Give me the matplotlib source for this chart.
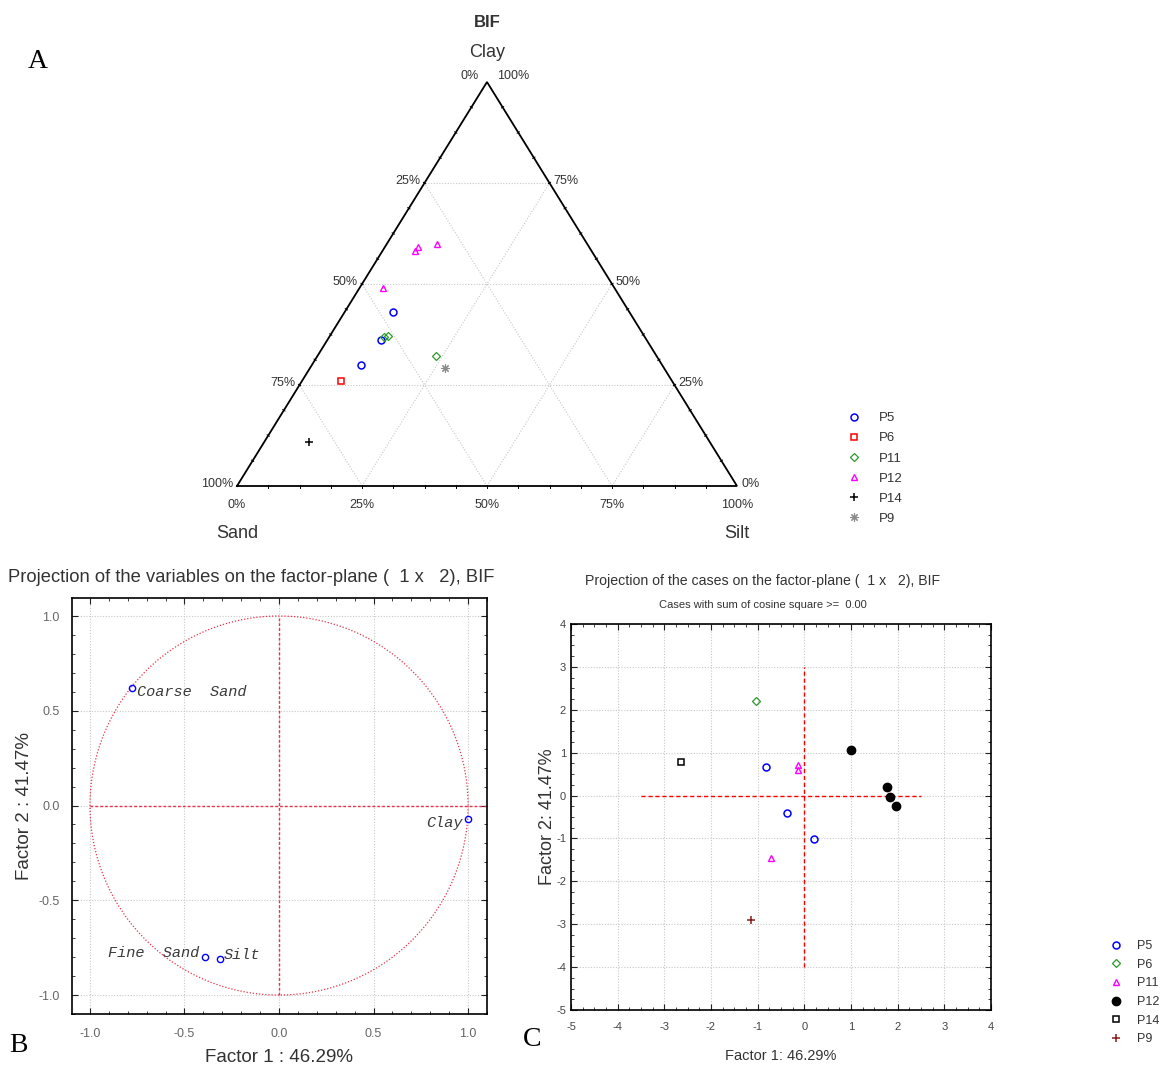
import numpy as np
import matplotlib
matplotlib.use("Agg")
import matplotlib.pyplot as plt
from matplotlib.lines import Line2D
from matplotlib.ticker import MultipleLocator, FormatStrFormatter

plt.rcParams.update({
    "font.family": ["Liberation Sans", "DejaVu Sans"],
    "font.size": 9,
    "axes.unicode_minus": False,
})

W, H = 1173, 1068

# ---------------------------------------------------------------------------
# Data
# ---------------------------------------------------------------------------
# A: ternary (percent silt / clay, sand is the rest) per group
tern_groups = ["P5", "P6", "P11", "P12", "P14", "P9"]
tern_silt = {
    "P5": [9.6, 10.8, 9.8],
    "P6": [7.8],
    "P11": [10.9, 11.6, 23.7],
    "P12": [9.9, 6.7, 6.6, 4.6],
    "P14": [8.9],
    "P9": [27.0],
}
tern_clay = {
    "P5": [43.1, 36.1, 29.9],
    "P6": [26.0],
    "P11": [36.9, 37.1, 32.2],
    "P12": [60.0, 59.1, 58.1, 49.1],
    "P14": [10.8],
    "P9": [29.1],
}
tern_style = {
    "P5": dict(marker="o", mfc="none", mec="blue", ms=5, mew=1.1),
    "P6": dict(marker="s", mfc="none", mec="red", ms=5, mew=1.1),
    "P11": dict(marker="D", mfc="none", mec="#2a9a2a", ms=4, mew=0.9),
    "P12": dict(marker="^", mfc="none", mec="magenta", ms=5, mew=1.0),
    "P14": dict(marker="+", mfc="none", mec="black", ms=6, mew=1.1),
    "P9": dict(marker=(8, 2, 0), mfc="none", mec="#8a8a8a", ms=6, mew=0.8),
}
tern_ticks = [0, 25, 50, 75, 100]

# B: variable loadings
var_names = ["Coarse  Sand", "Clay", "Fine  Sand", "Silt"]
var_f1 = [-0.78, 1.00, -0.39, -0.31]
var_f2 = [0.62, -0.07, -0.80, -0.81]

# C: case scores per group
case_groups = ["P5", "P6", "P11", "P12", "P14", "P9"]
case_f1 = {
    "P5": [-0.83, -0.38, 0.21],
    "P6": [-1.03],
    "P11": [-0.13, -0.13, -0.72],
    "P12": [1.00, 1.77, 1.84, 1.96],
    "P14": [-2.64],
    "P9": [-1.15],
}
case_f2 = {
    "P5": [0.66, -0.41, -1.02],
    "P6": [2.21],
    "P11": [0.71, 0.60, -1.46],
    "P12": [1.06, 0.21, -0.04, -0.24],
    "P14": [0.79],
    "P9": [-2.90],
}
case_style = {
    "P5": dict(marker="o", mfc="none", mec="blue", ms=5, mew=1.1),
    "P6": dict(marker="D", mfc="none", mec="#2a9a2a", ms=4, mew=0.9),
    "P11": dict(marker="^", mfc="none", mec="magenta", ms=5, mew=1.0),
    "P12": dict(marker="o", mfc="black", mec="black", ms=6, mew=1.0),
    "P14": dict(marker="s", mfc="none", mec="black", ms=5, mew=1.1),
    "P9": dict(marker="+", mfc="none", mec="#8b1a1a", ms=6, mew=1.1),
}

GRID = dict(color="#c8c8c8", lw=0.8, ls=(0, (1, 1.5)))
TXT = "#333333"


def box(left, top, right, bottom):
    """pixel box -> figure fraction rect"""
    return [left / W, 1 - bottom / H, (right - left) / W, (bottom - top) / H]


fig = plt.figure(figsize=(W / 100, H / 100), dpi=100)

# ===================================================================
# A: ternary diagram
# ===================================================================
axA = fig.add_axes(box(237, 82, 737, 486))
axA.set_xlim(0, 1)
axA.set_ylim(0, 1)
axA.axis("off")


def txy(silt, clay):
    silt = np.asarray(silt) / 100.0
    clay = np.asarray(clay) / 100.0
    return silt + clay / 2, clay


# grid
for v in [25, 50, 75]:
    x, y = txy([0, 100 - v], [v, v])
    axA.plot(x, y, **GRID)
    x, y = txy([v, v], [0, 100 - v])
    axA.plot(x, y, **GRID)
    x, y = txy([100 - v, 0], [0, 100 - v])
    axA.plot(x, y, **GRID)

# edges
axA.plot([0, 1, 0.5, 0], [0, 0, 1, 0], color="black", lw=1.3, clip_on=False,
         solid_joinstyle="miter")

# small edge ticks
px, py = 1 / 500, 1 / 404
for k in range(1, 16):
    f = k / 16
    axA.plot([f, f], [1.5 * py, -1.5 * py], color="black", lw=0.7, clip_on=False)
    xl, yl = f / 2, f
    axA.plot([xl + 1.1 * px, xl - 1.1 * px], [yl - 0.7 * py, yl + 0.7 * py],
             color="black", lw=0.7, clip_on=False)
    xr, yr = 1 - f / 2, f
    axA.plot([xr - 1.1 * px, xr + 1.1 * px], [yr - 0.7 * py, yr + 0.7 * py],
             color="black", lw=0.7, clip_on=False)

# points
for g in tern_groups:
    x, y = txy(tern_silt[g], tern_clay[g])
    axA.plot(x, y, ls="none", clip_on=False, **tern_style[g])

# tick labels
for t in tern_ticks:
    axA.text(t / 100, -19 * py, f"{t}%", ha="center", va="center", fontsize=9, color=TXT)
    x, y = txy(0, 100 - t)
    if t == 0:
        axA.text(x - 8 * px, y + 6 * py, "0%", ha="right", va="center", fontsize=9, color=TXT)
    else:
        axA.text(x - 4 * px, y + 2 * py, f"{t}%", ha="right", va="center", fontsize=9, color=TXT)
    x, y = txy(100 - t, t)
    if t == 100:
        axA.text(x + 10 * px, y + 6 * py, "100%", ha="left", va="center", fontsize=9, color=TXT)
    else:
        axA.text(x + 4 * px, y + 2 * py, f"{t}%", ha="left", va="center", fontsize=9, color=TXT)

axA.text(0.5, 1 + 30 * py, "Clay", ha="center", va="center", fontsize=13, color=TXT)
axA.text(0.5, 1 + 60 * py, "BIF", ha="center", va="center", fontsize=12,
         fontweight="bold", color=TXT)
axA.text(0, -47 * py, "Sand", ha="center", va="center", fontsize=13, color=TXT)
axA.text(1, -47 * py, "Silt", ha="center", va="center", fontsize=13, color=TXT)

handles = [Line2D([0], [0], ls="none", label=g, **tern_style[g]) for g in tern_groups]
fig.legend(handles=handles, loc="upper left", bbox_to_anchor=(847 / W, 1 - 412 / H),
           frameon=False, fontsize=9.5, labelspacing=0.6, handlelength=1.0,
           handletextpad=1.4, borderaxespad=0, borderpad=0, labelcolor=TXT)

fig.text(38 / W, 1 - 62 / H, "A", fontsize=20, family=["Liberation Serif"],
         ha="center", va="center")

# ===================================================================
# B: projection of the variables
# ===================================================================
axB = fig.add_axes(box(72, 598, 487, 1014))
axB.set_xlim(-1.095, 1.1)
axB.set_ylim(-1.1, 1.095)
theta = np.linspace(0, 2 * np.pi, 400)
axB.plot(np.cos(theta), np.sin(theta), color="#e8334a", lw=0.9, ls=(0, (1, 1.5)))
axB.plot([-1, 1.1], [0, 0], color="#e8334a", lw=1.0, ls=(0, (2, 1.5)))
axB.plot([0, 0], [-1, 1], color="#e8334a", lw=1.0, ls=(0, (2, 1.5)))
axB.plot(var_f1, var_f2, ls="none", marker="o", ms=4.5, mfc="none", mec="blue", mew=1.0)
offsets = {"Coarse  Sand": (0.03, -0.02, "left"), "Clay": (-0.03, -0.02, "right"),
           "Fine  Sand": (-0.03, 0.02, "right"), "Silt": (0.02, 0.02, "left")}
for n, x, y in zip(var_names, var_f1, var_f2):
    dx, dy, ha = offsets[n]
    axB.text(x + dx, y + dy, n, ha=ha, va="center", fontsize=11, style="italic",
             family=["Liberation Mono"], color="#3a3a3a")
axB.xaxis.set_major_locator(MultipleLocator(0.5))
axB.yaxis.set_major_locator(MultipleLocator(0.5))
axB.xaxis.set_minor_locator(MultipleLocator(0.1))
axB.yaxis.set_minor_locator(MultipleLocator(0.1))
axB.xaxis.set_major_formatter(FormatStrFormatter("%.1f"))
axB.yaxis.set_major_formatter(FormatStrFormatter("%.1f"))
axB.tick_params(which="both", direction="in", top=True, right=True, colors="#222222",
                labelcolor="#666666", labelsize=9)
axB.tick_params(which="major", length=4)
axB.tick_params(which="minor", length=2.5)
axB.tick_params(axis="x", pad=10)
axB.tick_params(axis="y", pad=9)
axB.grid(True, which="major", **GRID)
for s in axB.spines.values():
    s.set_linewidth(1.2)
axB.set_ylabel("Factor 2 : 41.47%", fontsize=13.5, color=TXT, labelpad=4)
fig.text(279 / W, 1 - 1057 / H, "Factor 1 : 46.29%", fontsize=13.5, color=TXT,
         ha="center", va="center")
fig.text(251 / W, 1 - 577 / H,
         "Projection of the variables on the factor-plane (  1 x   2), BIF",
         fontsize=13.2, color=TXT, ha="center", va="center")
fig.text(18 / W, 1 - 1045 / H, "B", fontsize=20, family=["Liberation Serif"],
         ha="center", va="center")

# ===================================================================
# C: projection of the cases
# ===================================================================
axC = fig.add_axes(box(571, 624, 991, 1010))
axC.set_xlim(-5, 4)
axC.set_ylim(-5, 4)
axC.plot([-3.5, 2.5], [0, 0], color="red", lw=1.0, ls=(0, (3, 2)))
axC.plot([0, 0], [-4, 3], color="red", lw=1.0, ls=(0, (3, 2)))
for g in case_groups:
    axC.plot(case_f1[g], case_f2[g], ls="none", **case_style[g])
axC.xaxis.set_major_locator(MultipleLocator(1))
axC.yaxis.set_major_locator(MultipleLocator(1))
axC.xaxis.set_minor_locator(MultipleLocator(0.25))
axC.yaxis.set_minor_locator(MultipleLocator(0.25))
axC.tick_params(which="both", direction="in", top=True, right=True, colors="#222222",
                labelcolor="#444444", labelsize=8)
axC.tick_params(which="major", length=4)
axC.tick_params(which="minor", length=2.5)
axC.tick_params(axis="x", pad=9)
axC.grid(True, which="major", **GRID)
for s in axC.spines.values():
    s.set_linewidth(1.2)
axC.set_xlabel("Factor 1: 46.29%", fontsize=10.5, color=TXT, labelpad=12)
axC.set_ylabel("Factor 2: 41.47%", fontsize=13, color=TXT, labelpad=0)
fig.text(763 / W, 1 - 581 / H,
         "Projection of the cases on the factor-plane (  1 x   2), BIF",
         fontsize=10.2, color=TXT, ha="center", va="center")
fig.text(763 / W, 1 - 605 / H, "Cases with sum of cosine square >=  0.00",
         fontsize=8, color=TXT, ha="center", va="center")

handles = [Line2D([0], [0], ls="none", label=g, **case_style[g]) for g in case_groups]
fig.legend(handles=handles, loc="upper left", bbox_to_anchor=(1110 / W, 1 - 940 / H),
           frameon=False, fontsize=9, labelspacing=0.53, handlelength=1.0,
           handletextpad=1.2, borderaxespad=0, borderpad=0, labelcolor=TXT)

fig.text(532 / W, 1 - 1040 / H, "C", fontsize=20, family=["Liberation Serif"],
         ha="center", va="center")

fig.savefig("out.png", dpi=100, facecolor="white")
